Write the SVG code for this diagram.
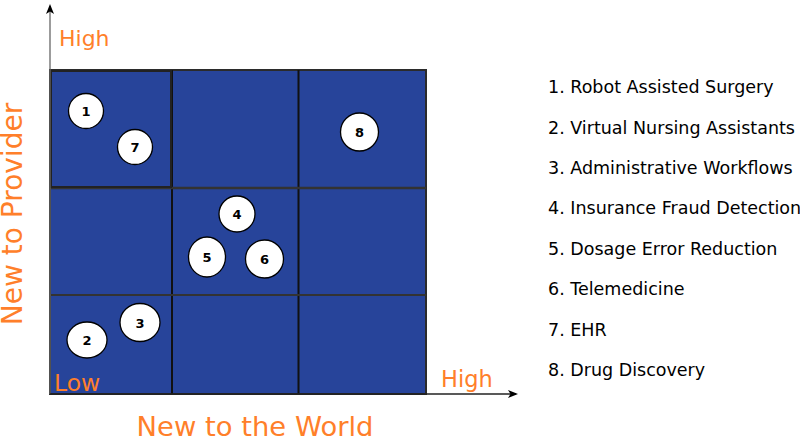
<svg xmlns="http://www.w3.org/2000/svg" width="800" height="438" viewBox="0 0 800 438">
<defs>
<marker id="arr" viewBox="0 0 10 10" refX="8" refY="5" markerWidth="10" markerHeight="10" markerUnits="userSpaceOnUse" orient="auto">
<path d="M0,1 L10,5 L0,9 L2.5,5 Z" fill="#000"/>
</marker>
<style>
.cell{fill:#27449a;stroke:#2b2b2b;stroke-width:2}
.ax{fill:#ff7f2a;font-family:"DejaVu Sans",sans-serif}
.leg{font-family:"DejaVu Sans",sans-serif;font-size:17.5px;fill:#000}
.dot{fill:#fff;stroke:#000;stroke-width:1.3}
.num{font-family:"DejaVu Sans",sans-serif;font-size:13px;font-weight:bold;text-anchor:middle;fill:#000}
</style>
</defs>
<g id="grid">
<rect class="cell" x="50" y="70" width="376" height="324"/>
<line x1="172" y1="70" x2="172" y2="394" stroke="#111" stroke-width="2"/>
<line x1="298.5" y1="70" x2="298.5" y2="394" stroke="#111" stroke-width="2"/>
<line x1="50" y1="188" x2="426" y2="188" stroke="#333" stroke-width="2.5"/>
<line x1="50" y1="295" x2="426" y2="295" stroke="#333" stroke-width="2"/>
<rect x="51" y="71" width="120" height="116" fill="none" stroke="#222" stroke-width="2"/>
</g>
<g id="connectors">
<line x1="50" y1="394" x2="50" y2="6" stroke="#666" stroke-width="1.3" marker-end="url(#arr)"/>
<line x1="50" y1="394" x2="516" y2="394" stroke="#222" stroke-width="1.3" marker-end="url(#arr)"/>
</g>
<g id="labels">
<text class="ax" x="59" y="46" font-size="22">High</text>
<text class="ax" x="54" y="391" font-size="23.5">Low</text>
<text class="ax" x="441" y="387" font-size="22.5">High</text>
<text class="ax" x="255" y="436" font-size="27.4" text-anchor="middle">New to the World</text>
<text class="ax" x="0" y="0" font-size="28" text-anchor="middle" transform="translate(22,214) rotate(-90)">New to Provider</text>
</g>
<g id="n1"><ellipse class="dot" cx="86" cy="111" rx="17.5" ry="17.5"/><text class="num" x="86" y="116">1</text></g>
<g id="n2"><ellipse class="dot" cx="87" cy="340" rx="20" ry="18"/><text class="num" x="87" y="345">2</text></g>
<g id="n3"><ellipse class="dot" cx="140" cy="322.5" rx="20" ry="19"/><text class="num" x="140" y="327.5">3</text></g>
<g id="n4"><ellipse class="dot" cx="237" cy="214" rx="18" ry="18"/><text class="num" x="237" y="219">4</text></g>
<g id="n5"><ellipse class="dot" cx="207" cy="257" rx="18.5" ry="20"/><text class="num" x="207" y="262">5</text></g>
<g id="n6"><ellipse class="dot" cx="264.5" cy="259" rx="19" ry="19"/><text class="num" x="264.5" y="264">6</text></g>
<g id="n7"><ellipse class="dot" cx="135" cy="147" rx="17.5" ry="17.5"/><text class="num" x="135" y="152">7</text></g>
<g id="n8"><ellipse class="dot" cx="359.5" cy="132" rx="19" ry="19"/><text class="num" x="359.5" y="137">8</text></g>
<g id="legend">
<text class="leg" x="548" y="93">1. Robot Assisted Surgery</text>
<text class="leg" x="548" y="134">2. Virtual Nursing Assistants</text>
<text class="leg" x="548" y="174">3. Administrative Workflows</text>
<text class="leg" x="548" y="214">4. Insurance Fraud Detection</text>
<text class="leg" x="548" y="255">5. Dosage Error Reduction</text>
<text class="leg" x="548" y="295">6. Telemedicine</text>
<text class="leg" x="548" y="336">7. EHR</text>
<text class="leg" x="548" y="376">8. Drug Discovery</text>
</g>
</svg>
